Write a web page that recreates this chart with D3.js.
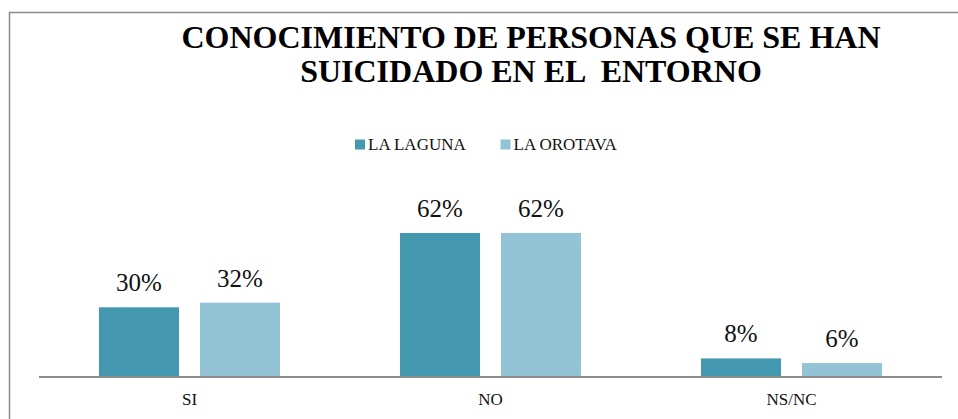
<!DOCTYPE html>
<html>
<head>
<meta charset="utf-8">
<script src="https://cdn.jsdelivr.net/npm/d3@7"></script>
</head>
<body style="margin:0; background:#fff">
<svg id="canvas" width="958" height="419"></svg>
<script>
let categories = ["SI", "NO", "NS/NC"]
let seriesNames = ["LA LAGUNA", "LA OROTAVA"]
let laLaguna = [30, 62, 8]
let laOrotava = [32, 62, 6]
let titleLines = ["CONOCIMIENTO DE PERSONAS QUE SE HAN", "SUICIDADO EN EL  ENTORNO"]

let fontFam = "Liberation Serif"
let colors = ["#4397af", "#93c4d6"]
let canvas = d3.select("#canvas")

// frame (cut by the right and bottom edge)
canvas.append("path")
    .attr("d", "M9.5,419 L9.5,12.5 L958,12.5")
    .attr("fill", "none")
    .attr("stroke", "#8c8c8c")
    .attr("stroke-width", 1.5)

// title
canvas.append("text")
    .attr("text-anchor", "middle")
    .style("font-family", fontFam)
    .style("font-weight", "bold")
    .style("font-size", "32px")
    .style("white-space", "pre")
    .selectAll("tspan")
    .data(titleLines)
    .enter()
    .append("tspan")
    .attr("x", 531)
    .attr("y", (d, i) => 47.5 + i * 34)
    .text(d => d)

let table = categories.map((c, i) => ({ cat: c, values: [laLaguna[i], laOrotava[i]] }))

let x = d3.scaleBand()
    .domain(categories)
    .range([39, 942])

let xInner = d3.scaleBand()
    .domain(seriesNames)
    .range([60, 241])
    .paddingInner(0.208)

let y = d3.scaleLinear()
    .domain([0, 70])
    .range([377, 377 - 70 * 2.323])

// legend
let legend = canvas.append("g")
let legendX = [355, 500.5]
seriesNames.forEach((name, i) => {
    legend.append("rect")
        .attr("x", legendX[i])
        .attr("y", 139.5)
        .attr("width", 10)
        .attr("height", 10)
        .attr("fill", colors[i])
    legend.append("text")
        .attr("x", legendX[i] + 13)
        .attr("y", 150)
        .style("font-family", fontFam)
        .style("font-size", "17px")
        .attr("fill", "#111")
        .text(name)
})

let group = canvas.selectAll("g.cat")
    .data(table)
    .enter()
    .append("g")
    .attr("class", "cat")
    .attr("transform", d => "translate(" + x(d.cat) + ",0)")

let bars = group.selectAll("g.bar")
    .data(d => d.values.map((v, i) => ({ name: seriesNames[i], value: v, idx: i })))
    .enter()
    .append("g")
    .attr("class", "bar")

bars.append("rect")
    .attr("x", d => xInner(d.name))
    .attr("y", d => y(d.value))
    .attr("width", xInner.bandwidth())
    .attr("height", d => y(0) - y(d.value))
    .attr("fill", d => colors[d.idx])

bars.append("text")
    .attr("x", d => xInner(d.name) + xInner.bandwidth() / 2)
    .attr("y", d => y(d.value) - 16)
    .attr("text-anchor", "middle")
    .style("font-family", fontFam)
    .style("font-size", "25px")
    .attr("fill", "#111")
    .text(d => d.value + "%")

// x axis
let axis = canvas.append("g")
    .attr("transform", "translate(0," + y(0) + ")")
    .call(d3.axisBottom(x).tickSize(0).tickPadding(16))

axis.select(".domain")
    .attr("stroke", "#8c8c8c")
    .attr("stroke-width", 2)
    .attr("d", "M39,0H942")

axis.selectAll("text")
    .style("font-family", fontFam)
    .style("font-size", "17px")
    .attr("fill", "#111")
</script>
</body>
</html>
